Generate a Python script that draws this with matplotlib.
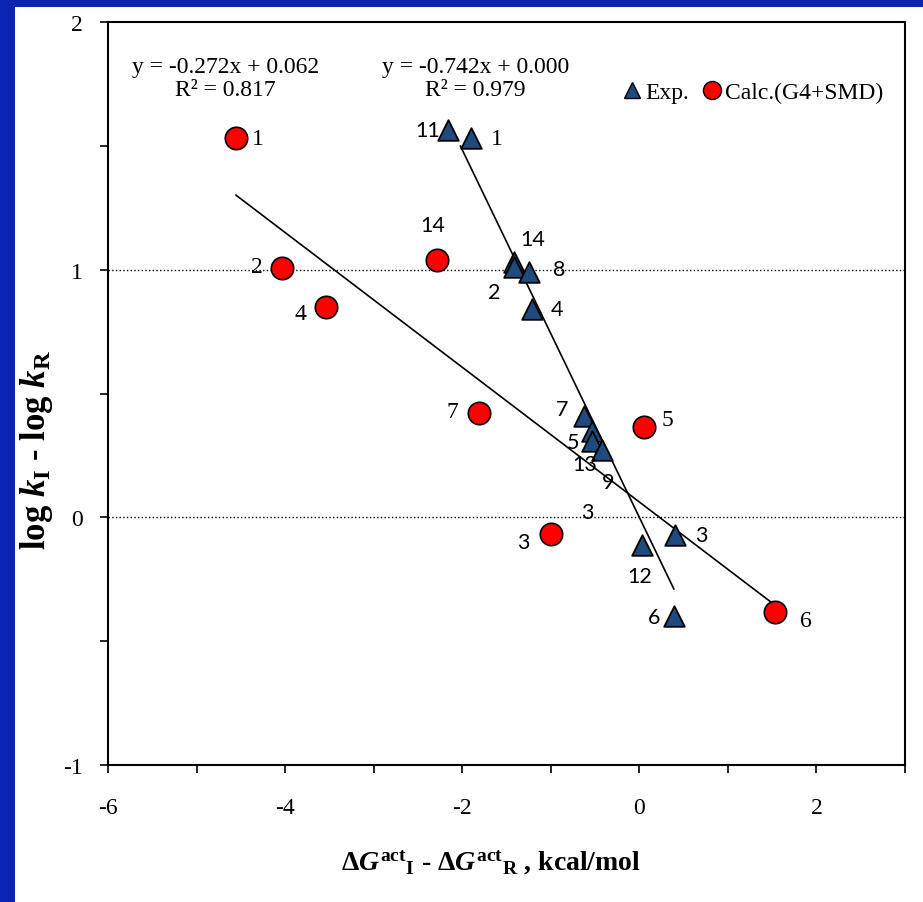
import matplotlib.pyplot as plt
import numpy as np
from matplotlib.lines import Line2D

plt.rcParams['font.family'] = ['Liberation Serif', 'DejaVu Serif']
plt.rcParams['axes.unicode_minus'] = False
plt.rcParams['mathtext.fontset'] = 'custom'
plt.rcParams['mathtext.rm'] = 'Liberation Serif:bold'
plt.rcParams['mathtext.it'] = 'Liberation Serif:bold:italic'
plt.rcParams['mathtext.bf'] = 'Liberation Serif:bold'

# --- data ---
exp_labels = ['11', '1', '14', '2', '8', '4', '7', '9', '5', '13', '12', '3', '6']
exp_x = [-2.16, -1.90, -1.41, -1.42, -1.25, -1.21, -0.62, -0.53, -0.53, -0.42, 0.03, 0.40, 0.39]
exp_y = [1.565, 1.53, 1.03, 1.01, 0.99, 0.84, 0.41, 0.35, 0.31, 0.27, -0.11, -0.07, -0.40]

calc_labels = ['1', '2', '4', '14', '7', '3', '5', '6']
calc_x = [-4.555, -4.04, -3.54, -2.28, -1.81, -1.00, 0.05, 1.53]
calc_y = [1.532, 1.008, 0.851, 1.04, 0.423, -0.069, 0.363, -0.383]

# trend lines as shown on the chart: slope, intercept, x-range
exp_fit = (-0.742, 0.000)
exp_fit_range = [-2.02, 0.39]
calc_fit = (-0.272, 0.062)
calc_fit_range = [min(calc_x), max(calc_x)]
eq_texts = ['y = -0.272x + 0.062\nR\u00b2 = 0.817', 'y = -0.742x + 0.000\nR\u00b2 = 0.979']

# label offsets in pixels (dx, dy) and font kind (s = sans, r = serif)
exp_off = [(-20, 0), (26, 0), (18, 23), (-19, -25), (31, 3), (25, 0), (-22, 7),
           (16, -51), (-19, -1), (-17, -14), (-2, -31), (27, 0), (-20, -1)]
exp_font = ['s', 'r', 's', 's', 's', 's', 's', 's', 's', 's', 's', 's', 's']
calc_off = [(22, -1), (-25, 1), (-25, -7), (-5, 35), (-27, 1), (-27, -8), (24, 8), (31, -8)]
calc_font = ['r', 'r', 'r', 's', 'r', 's', 'r', 'r']

fig = plt.figure(figsize=(9.23, 9.03), dpi=100)
fig.patch.set_facecolor('#0a24b4')
fig.patches.append(plt.Rectangle((15 / 923, 0), 1, 1 - 8 / 903, transform=fig.transFigure,
                                 facecolor='white', edgecolor='none', zorder=-10))
ax = fig.add_axes([108 / 923, 1 - 766 / 903, 797 / 923, 743 / 903])
ax.set_facecolor('white')

ax.axhline(1, color='black', linestyle=':', linewidth=1, zorder=1)
ax.axhline(0, color='black', linestyle=':', linewidth=1, zorder=1)

# trend lines
for (m, b), rng in [(exp_fit, exp_fit_range), (calc_fit, calc_fit_range)]:
    xs = np.array(rng)
    ax.plot(xs, m * xs + b, color='black', linewidth=1.2, zorder=2)

tri_color = '#1f4a7e'
ax.scatter(exp_x, exp_y, marker='^', s=220, color=tri_color, edgecolor='black', linewidth=1.3, zorder=3)
ax.scatter(calc_x, calc_y, marker='o', s=260, color='#ff0000', edgecolor='black', linewidth=1.2, zorder=3)

fonts = {'s': ['Lato', 'DejaVu Sans'], 'r': ['Liberation Serif']}
sizes = {'s': 15.5, 'r': 17}
for lab, x, y, off, f in zip(exp_labels, exp_x, exp_y, exp_off, exp_font):
    ax.annotate(lab, (x, y), xytext=off, textcoords='offset pixels', ha='center', va='center',
                fontsize=sizes[f], family=fonts[f], zorder=4)
for lab, x, y, off, f in zip(calc_labels, calc_x, calc_y, calc_off, calc_font):
    ax.annotate(lab, (x, y), xytext=off, textcoords='offset pixels', ha='center', va='center',
                fontsize=sizes[f], family=fonts[f], zorder=4)
# stray label on the original
ax.text(-0.59, 0.02, '3', ha='center', va='center', fontsize=15.5, family=fonts['s'])

ax.text(-4.67, 1.775, eq_texts[0], ha='center', va='center', fontsize=17, linespacing=1.1)
ax.text(-1.85, 1.775, eq_texts[1], ha='center', va='center', fontsize=17, linespacing=1.1)

handles = [Line2D([], [], marker='^', linestyle='none', markersize=12, markerfacecolor=tri_color,
                  markeredgecolor='black'),
           Line2D([], [], marker='o', linestyle='none', markersize=13, markerfacecolor='#ff0000',
                  markeredgecolor='black')]
ax.legend(handles, ['Exp.', 'Calc.(G4+SMD)'], loc='center right', bbox_to_anchor=(0.99, 0.905),
          ncol=2, frameon=False, fontsize=17, handletextpad=0.0, columnspacing=0.4,
          handlelength=1.1, borderpad=0.1)

ax.set_xlim(-6, 3)
ax.set_ylim(-1, 2)
ax.set_xticks([-6, -4, -2, 0, 2])
ax.set_xticks([-5, -3, -1, 1, 3], minor=True)
ax.set_yticks([-1, 0, 1, 2])
ax.set_yticks([-0.5, 0.5, 1.5], minor=True)
ax.tick_params(which='both', direction='out', length=6, width=1.2, labelsize=17,
               labelfontfamily='Liberation Serif')
ax.tick_params(axis='x', which='major', pad=17)
ax.tick_params(axis='y', which='major', pad=12)
for s in ax.spines.values():
    s.set_linewidth(1.5)

ax.set_xlabel(r'$\Delta G^{\rm act}{}_{\rm I}$ - $\Delta G^{\rm act}{}_{\rm R}$ , kcal/mol',
              fontsize=20, fontweight='bold')
ax.xaxis.set_label_coords(0.48, -0.11)
ax.set_ylabel(r'log $k_{\rm I}$ - log $k_{\rm R}$', fontsize=25, fontweight='bold')
ax.yaxis.set_label_coords(-0.066, 0.425)

plt.savefig('out.png', dpi=100, facecolor=fig.get_facecolor())
